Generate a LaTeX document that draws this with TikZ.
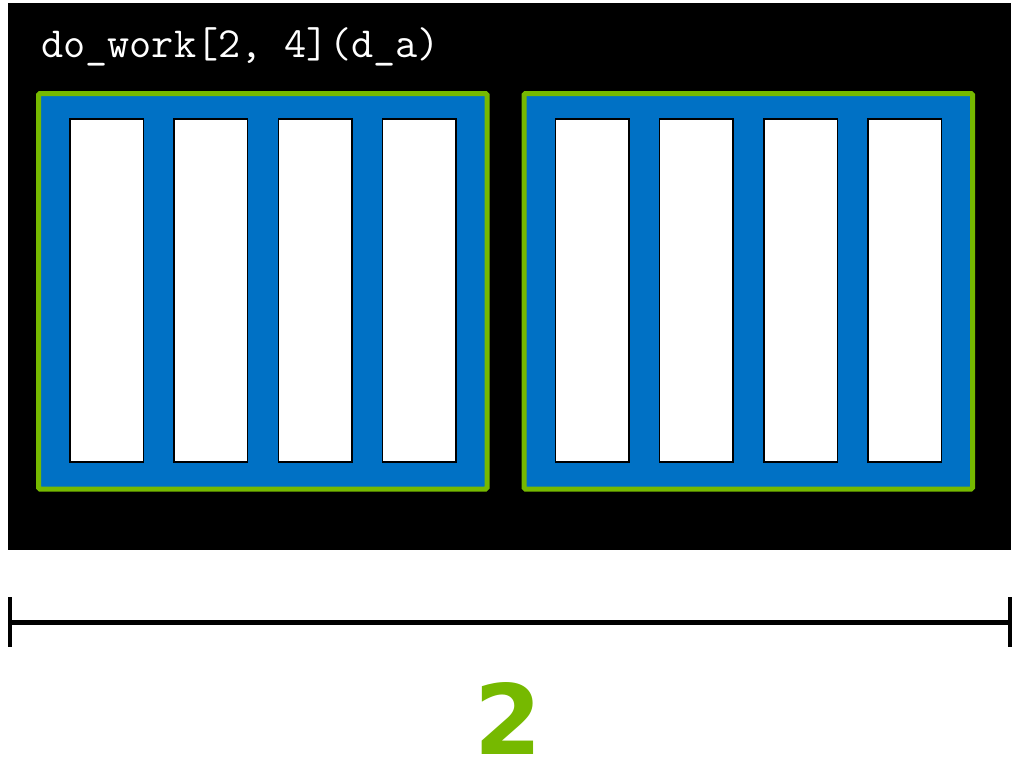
\documentclass[tikz,border=0pt]{standalone}
\usepackage{fontspec}
\newfontfamily\numfont{DejaVu Sans}
\usetikzlibrary{positioning}
\definecolor{nvgreen}{HTML}{76B900}
\definecolor{blockblue}{HTML}{0071C5}

\begin{document}
\begin{tikzpicture}[x=1pt,y=-1pt,
  block/.style={draw=nvgreen,fill=blockblue,line width=5pt,rounded corners=1.5pt,minimum width=448.5pt,minimum height=395.5pt,inner sep=0pt},
  thread/.style={draw=black,fill=white,line width=1.5pt,minimum width=73.5pt,minimum height=343pt,inner sep=0pt}]
\useasboundingbox (0,0) rectangle (1012,766);
\fill[black] (8,3) rectangle (1011,550);
\node[anchor=base west,text=white,inner sep=0pt,font=\ttfamily\fontsize{43}{43}\selectfont] (call) at (41,57) {do\_work[2, 4](d\_a)};
% two blocks, four threads each
\foreach \b/\bx in {1/262.75,2/748.25}{
  \node[block] (blk\b) at (\bx,291.25) {};
  \foreach \t in {1,...,4}
    \node[thread] (thr\b-\t) at ({\bx-156.25+(\t-1)*104.3},290.3) {};
}
\coordinate (dimL) at (10,622);
\coordinate (dimR) at (1010,622);
\draw[line width=5pt] (dimL) -- (dimR);
\draw[line width=4pt] ([yshift=25pt]dimL) -- ([yshift=-25pt]dimL);
\draw[line width=4pt] ([yshift=25pt]dimR) -- ([yshift=-25pt]dimR);
\node[anchor=base,text=nvgreen,inner sep=0pt,text depth=0pt,font=\numfont\bfseries\fontsize{97}{97}\selectfont] (count) at (508,754) {2};
\end{tikzpicture}
\end{document}
